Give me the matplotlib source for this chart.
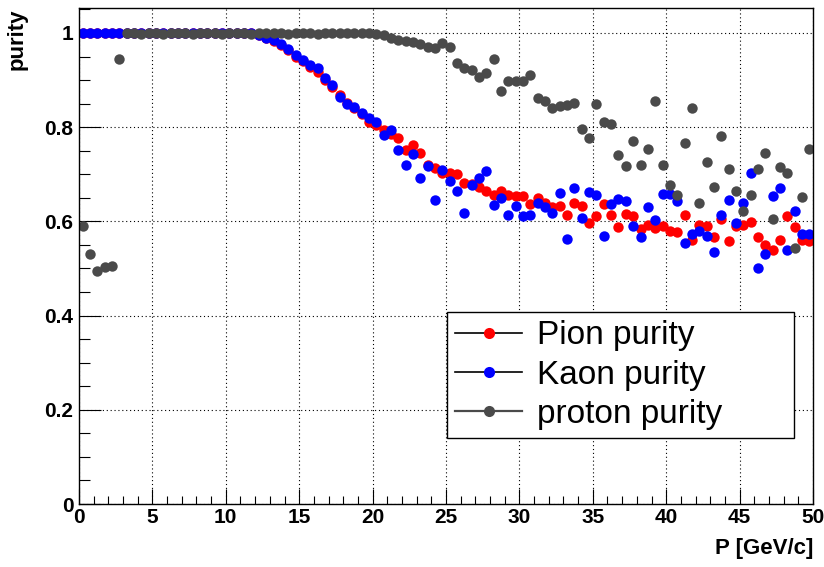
import numpy as np
import matplotlib
matplotlib.use("Agg")
import matplotlib.pyplot as plt
from matplotlib.lines import Line2D
from matplotlib.ticker import MultipleLocator

# momentum bins (0.5 GeV/c wide), bin centres
p = np.arange(0.25, 50.0, 0.5)

pion = [1.0] * 24 + [
    0.995, 0.99, 0.983, 0.975, 0.963, 0.95, 0.94, 0.928, 0.918, 0.9, 0.885, 0.868, 0.852, 0.84, 0.828, 0.812,
    0.805, 0.795, 0.785, 0.778, 0.752, 0.763, 0.745, 0.72, 0.713, 0.703, 0.703, 0.70, 0.682, 0.68, 0.674, 0.664, 0.657, 0.664, 0.657, 0.653,
    0.654, 0.636, 0.65, 0.638, 0.631, 0.632, 0.614, 0.64, 0.633, 0.597, 0.612, 0.636, 0.614, 0.589, 0.616, 0.611, 0.583, 0.593, 0.585, 0.59,
    0.579, 0.577, 0.614, 0.56, 0.593, 0.59, 0.566, 0.604, 0.558, 0.59, 0.593, 0.598, 0.566, 0.55, 0.539, 0.56, 0.611, 0.588, 0.561, 0.558,
]

kaon = [1.0] * 24 + [
    0.995, 0.99, 0.985, 0.977, 0.967, 0.953, 0.943, 0.932, 0.925, 0.905, 0.89, 0.865, 0.85, 0.843, 0.83, 0.82,
    0.812, 0.784, 0.795, 0.752, 0.72, 0.742, 0.692, 0.717, 0.646, 0.71, 0.685, 0.664, 0.618, 0.678, 0.692, 0.706, 0.635, 0.65, 0.614, 0.632,
    0.611, 0.614, 0.64, 0.631, 0.617, 0.661, 0.563, 0.671, 0.608, 0.662, 0.655, 0.568, 0.636, 0.648, 0.643, 0.591, 0.566, 0.631, 0.602, 0.659,
    0.659, 0.643, 0.555, 0.574, 0.579, 0.57, 0.535, 0.614, 0.646, 0.597, 0.639, 0.703, 0.502, 0.53, 0.653, 0.671, 0.54, 0.621, 0.574, 0.574,
]

proton = [
    0.59, 0.53, 0.495, 0.503, 0.505, 0.945,
    1.0, 0.999, 0.998, 0.999, 1.0, 0.998, 0.999, 0.999, 1.0, 0.998, 0.999, 1.0, 0.999, 0.998, 0.999, 1.0, 0.999,
    0.998, 0.999, 0.999, 1.0, 0.999, 0.998, 0.999, 1.0, 0.999, 0.998, 0.999, 1.0, 0.999, 1.0, 1.0, 1.0, 1.0,
    0.998, 0.995, 0.99, 0.985, 0.982, 0.98, 0.977, 0.971, 0.968, 0.978, 0.971,
    0.936, 0.926, 0.922, 0.907, 0.915, 0.945, 0.877, 0.897, 0.897, 0.897, 0.911, 0.862, 0.855, 0.84, 0.844, 0.847, 0.851, 0.796, 0.778, 0.849, 0.812,
    0.807, 0.741, 0.717, 0.77, 0.72, 0.753, 0.856, 0.72, 0.678, 0.655, 0.766, 0.84, 0.64, 0.727, 0.673, 0.782, 0.711, 0.664, 0.621, 0.655, 0.711, 0.746, 0.605, 0.715, 0.703, 0.544, 0.652, 0.754,
]

labels = ["Pion purity", "Kaon purity", "proton purity"]
colors = ["#ff0000", "#0000ff", "#4a4a4a"]

plt.rcParams['font.family'] = ['Liberation Sans', 'DejaVu Sans']

fig = plt.figure(figsize=(8.24, 5.67), dpi=100)
ax = fig.add_axes([79 / 824, 63 / 567, 734 / 824, 496 / 567])

for y, c in zip([pion, kaon, proton], colors):
    ax.plot(p, y, linestyle='none', marker='o', ms=7.5, mew=0, color=c)

ax.set_xlim(0, 50)
ax.set_ylim(0, 1.053)

ax.xaxis.set_major_locator(MultipleLocator(5))
ax.xaxis.set_minor_locator(MultipleLocator(1))
ax.yaxis.set_major_locator(MultipleLocator(0.2))
ax.yaxis.set_minor_locator(MultipleLocator(0.05))
ax.yaxis.set_major_formatter(matplotlib.ticker.FuncFormatter(lambda v, _: "%g" % round(v, 2)))
ax.xaxis.set_major_formatter(matplotlib.ticker.FuncFormatter(lambda v, _: "%g" % v))

ax.tick_params(axis='both', which='both', direction='in', width=0.8, labelsize=15, top=False, right=False)
ax.tick_params(axis='y', which='major', length=16, pad=4)
ax.tick_params(axis='y', which='minor', length=8)
ax.tick_params(axis='x', which='major', length=11, pad=3)
ax.tick_params(axis='x', which='minor', length=5.5)
for lab in ax.get_xticklabels() + ax.get_yticklabels():
    lab.set_fontweight('bold')

ax.grid(True, which='major', color='black', linestyle=(0, (1, 2.5)), linewidth=0.8)
ax.set_axisbelow(True)
for s in ax.spines.values():
    s.set_linewidth(1.0)

ax.set_ylabel("purity", loc='top', fontsize=16, fontweight='bold', labelpad=12)
ax.set_xlabel("P [GeV/c]", loc='right', fontsize=16, fontweight='bold', labelpad=8)

handles = [
    Line2D([], [], color='black', lw=1.2, marker='o', ms=8, mew=0, markerfacecolor=colors[0]),
    Line2D([], [], color='black', lw=1.2, marker='o', ms=8, mew=0, markerfacecolor=colors[1]),
    Line2D([], [], color=colors[2], lw=1.6, marker='o', ms=8, mew=0, markerfacecolor=colors[2]),
]
leg = ax.legend(handles, labels, loc='upper left', bbox_to_anchor=(447 / 824, 124 / 567, 347 / 824, 131 / 567),
                bbox_transform=fig.transFigure, mode='expand', fontsize=24, frameon=True, fancybox=False,
                framealpha=1, edgecolor='black', borderpad=0.25, labelspacing=0.25, handlelength=2.0,
                handletextpad=0.45, borderaxespad=0)
leg.get_frame().set_linewidth(1.0)

fig.savefig("out.png", dpi=100)
